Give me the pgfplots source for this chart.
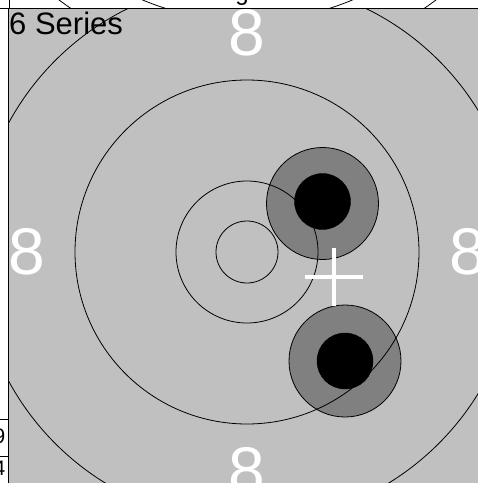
\documentclass[border=0pt]{standalone}
\usepackage{fontspec}
\setmainfont{Liberation Sans}
\usepackage{pgfplots}
\pgfplotsset{compat=1.18}
\definecolor{bg}{HTML}{C0C0C0}
\definecolor{shot}{HTML}{808080}
\begin{document}
\begin{tikzpicture}
% neighbouring panel remnants (above the target)
\begin{scope}
\clip (0pt,0pt) rectangle (478pt,-8pt);
\draw[line width=0.8pt] (247.5pt,250pt) circle[radius=271pt];
\draw[line width=0.8pt] (247.5pt,250pt) circle[radius=313pt];
\end{scope}
\node[anchor=base, font=\fontsize{24}{28}\selectfont, inner sep=0pt] at (242pt,0pt) {g};
% table grid remnants
\draw[line width=1pt] (9pt,0pt) -- (9pt,-8pt);
\draw[line width=1pt] (0pt,-8pt) -- (9pt,-8pt);
\draw[line width=1pt] (0pt,-419pt) -- (9pt,-419pt);
\draw[line width=1pt] (0pt,-456pt) -- (9pt,-456pt);
\node[anchor=base east, font=\fontsize{21}{24}\selectfont, inner sep=0pt] at (5.5pt,-443pt) {9};
\node[anchor=base east, font=\fontsize{21}{24}\selectfont, inner sep=0pt] at (5.5pt,-475pt) {4};
\begin{axis}[
  at={(9pt,-8pt)}, anchor=north west,
  width=476pt, height=488pt, scale only axis,
  xmin=-238, xmax=238, ymin=-244, ymax=244,
  axis background/.style={fill=bg},
  xtick=\empty, ytick=\empty,
  axis line style={line width=1pt},
  clip marker paths=true,
]
% shot halos
\addplot[only marks, mark=*, mark size=56pt, mark options={fill=shot, draw=black, line width=0.8pt}]
  coordinates {(75.5,48.5) (98,-109)};
% rings
\addplot[only marks, mark=o, mark size=31pt, mark options={draw=black, line width=0.8pt}] coordinates {(0,0)};
\addplot[only marks, mark=o, mark size=71pt, mark options={draw=black, line width=0.8pt}] coordinates {(0,0)};
\addplot[only marks, mark=o, mark size=172pt, mark options={draw=black, line width=0.8pt}] coordinates {(0,0)};
\addplot[only marks, mark=o, mark size=271pt, mark options={draw=black, line width=0.8pt}] coordinates {(0,0)};
% shot holes
\addplot[only marks, mark=*, mark size=28pt, mark options={fill=black, draw=black}]
  coordinates {(75.5,50.5) (98,-109)};
% mean point
\addplot[only marks, mark=+, mark size=29pt, mark options={draw=white, line width=4pt}]
  coordinates {(87,-25)};
% ring value labels
\node[text=white, font=\fontsize{66}{70}\selectfont, inner sep=0pt] at (axis cs:0,219) {8};
\node[text=white, font=\fontsize{66}{70}\selectfont, inner sep=0pt] at (axis cs:0,-219) {8};
\node[text=white, font=\fontsize{66}{70}\selectfont, inner sep=0pt] at (axis cs:-220.5,0) {8};
\node[text=white, font=\fontsize{66}{70}\selectfont, inner sep=0pt] at (axis cs:221,0) {8};
\node[anchor=north west, font=\fontsize{31}{36}\selectfont, inner sep=0pt, yshift=-4pt] at (rel axis cs:0,1) {6 Series};
\end{axis}
\pgfresetboundingbox
\path[use as bounding box] (0pt,0pt) rectangle (478pt,-483pt);
\end{tikzpicture}
\end{document}
